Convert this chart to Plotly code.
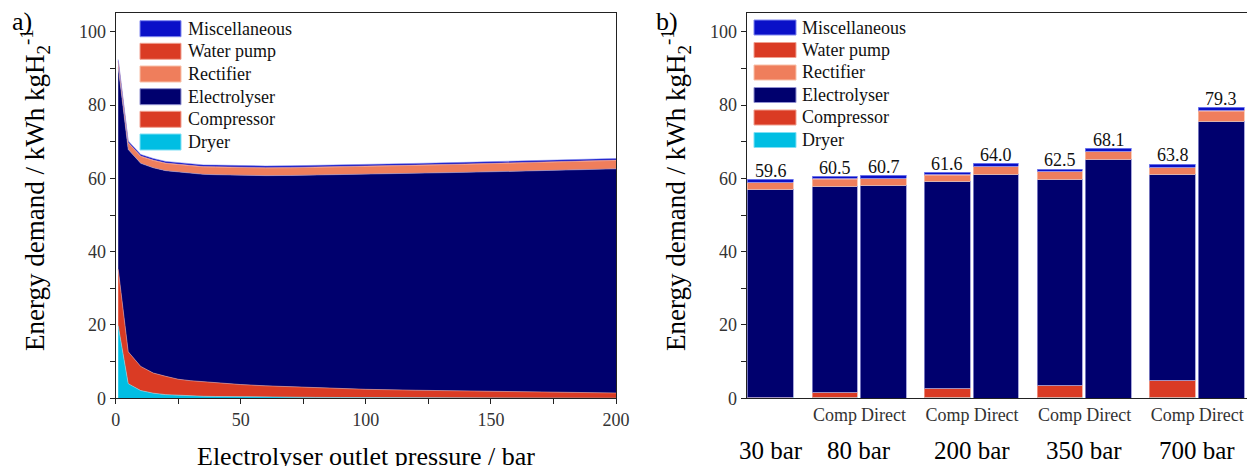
import plotly.graph_objects as go

W, H = 1247, 466
def px(x): return x / W
def py(y): return 1 - y / H

# ---------------- data: panel a) ----------------
pressure = [1, 5, 10, 15, 20, 25, 30, 35, 40, 50, 60, 70, 80, 90, 100, 120, 140, 160, 180, 200]
dryer_a = [19.8, 4.0, 2.1, 1.4, 1.0, 0.8, 0.65, 0.55, 0.5, 0.4, 0.33, 0.28, 0.25, 0.22, 0.2, 0.16, 0.12, 0.09, 0.05, 0.02]
compressor_a = [15.4, 8.7, 6.6, 5.5, 5.0, 4.4, 4.15, 3.95, 3.75, 3.35, 3.07, 2.87, 2.65, 2.43, 2.25, 2.04, 1.88, 1.71, 1.55, 1.43]
electrolyser_a = [55.1, 55.2, 55.4, 56.0, 56.1, 56.5, 56.6, 56.6, 56.75, 57.05, 57.35, 57.65, 58.0, 58.35, 58.65, 59.15, 59.65, 60.15, 60.7, 61.15]
rectifier_a = [1.6, 1.8, 1.9, 2.0, 2.0, 2.05, 2.05, 2.05, 2.1, 2.1, 2.1, 2.1, 2.1, 2.15, 2.15, 2.2, 2.2, 2.25, 2.25, 2.3]
waterpump_a = [0.08] * 20
misc_a = [0.45] * 20

# ---------------- data: panel b) ----------------
groups_b = ["30 bar", "80 bar", "200 bar", "350 bar", "700 bar"]
routes_b = ["", "Comp", "Direct", "Comp", "Direct", "Comp", "Direct", "Comp", "Direct"]
bar_group = [0, 1, 1, 2, 2, 3, 3, 4, 4]
dryer_b = [0.3, 0.3, 0.0, 0.3, 0.0, 0.3, 0.0, 0.3, 0.0]
compressor_b = [0.0, 1.1, 0.0, 2.2, 0.0, 3.1, 0.0, 4.4, 0.0]
electrolyser_b = [56.5, 56.4, 58.0, 56.5, 61.0, 56.3, 65.0, 56.2, 75.6]
rectifier_b = [2.0, 1.9, 1.9, 1.8, 2.2, 2.0, 2.3, 2.0, 2.7]
waterpump_b = [0.1, 0.1, 0.1, 0.1, 0.1, 0.1, 0.1, 0.1, 0.1]
misc_b = [0.7, 0.7, 0.7, 0.7, 0.7, 0.7, 0.7, 0.8, 0.9]
totals_b = [59.6, 60.5, 60.7, 61.6, 64.0, 62.5, 68.1, 63.8, 79.3]

# series styling (bottom -> top)
series = [
    ("Dryer", "#00BEE3", "#7FE0F5"),
    ("Compressor", "#DA3B24", "#F0A090"),
    ("Electrolyser", "#00006E", "#9090D0"),
    ("Rectifier", "#EF7E5C", "#F8C0A8"),
    ("Water pump", "#DA3B24", "#F0A090"),
    ("Miscellaneous", "#0A10C8", "#8088F0"),
]
data_a = [dryer_a, compressor_a, electrolyser_a, rectifier_a, waterpump_a, misc_a]
data_b = [dryer_b, compressor_b, electrolyser_b, rectifier_b, waterpump_b, misc_b]

# bar layout (positions on the numeric category axis)
pair_pitch, group_pitch, first_gap, bar_w = 1.0, 2.315, 1.317, 0.94
slot = []
for i, g in enumerate(bar_group):
    if g == 0:
        slot.append(0.0)
    else:
        within = 0 if routes_b[i] == "Comp" else 1
        slot.append(first_gap + (g - 1) * group_pitch + within * pair_pitch)

FONT = "Liberation Serif"
fig = go.Figure()

for (name, col, lcol), ys in zip(series, data_a):
    fig.add_trace(go.Scatter(
        x=pressure, y=ys, name=name, stackgroup="a", mode="lines",
        line=dict(width=0.6, color=lcol), fillcolor=col, showlegend=False,
        xaxis="x", yaxis="y"))

for (name, col, lcol), ys in zip(series, data_b):
    fig.add_trace(go.Bar(
        x=slot, y=ys, name=name, width=bar_w, showlegend=False,
        marker=dict(color=col, line=dict(color=lcol, width=0.8)),
        xaxis="x2", yaxis="y2"))

ann = []
for x, t in zip(slot, totals_b):
    ann.append(dict(x=x, y=t, xref="x2", yref="y2", text=f"{t:.1f}", showarrow=False,
                    xanchor="center", yanchor="bottom", yshift=-3,
                    font=dict(family=FONT, size=18, color="#111")))

# group labels
grp_x = {}
for i, g in enumerate(bar_group):
    grp_x.setdefault(g, []).append(slot[i])
for g, name in enumerate(groups_b):
    xs = grp_x[g]
    ann.append(dict(x=sum(xs) / len(xs), y=py(450), xref="x2", yref="paper", text=name,
                    showarrow=False, xanchor="center", yanchor="middle",
                    font=dict(family=FONT, size=25, color="#000")))

ytitle = "Energy demand / kWh kgH<sub>2</sub><sup>-1</sup>"
ann += [
    dict(x=px(35), y=py(190), xref="paper", yref="paper", text=ytitle, textangle=-90,
         showarrow=False, xanchor="center", yanchor="middle",
         font=dict(family=FONT, size=27, color="#000")),
    dict(x=px(676), y=py(190), xref="paper", yref="paper", text=ytitle, textangle=-90,
         showarrow=False, xanchor="center", yanchor="middle",
         font=dict(family=FONT, size=27, color="#000")),
    dict(x=px(366), y=py(456), xref="paper", yref="paper", text="Electrolyser outlet pressure / bar",
         showarrow=False, xanchor="center", yanchor="middle",
         font=dict(family=FONT, size=26, color="#000")),
    dict(x=px(22), y=py(22), xref="paper", yref="paper", text="a)", showarrow=False,
         xanchor="center", yanchor="middle", font=dict(family=FONT, size=26, color="#000")),
    dict(x=px(667), y=py(22), xref="paper", yref="paper", text="b)", showarrow=False,
         xanchor="center", yanchor="middle", font=dict(family=FONT, size=26, color="#000")),
]

# manual legends
shapes = []
legend_order = list(reversed(series))
for (sx0, sx1, tx, rows, hh) in [
    (140, 181, 186, [28.7, 51.3, 74.0, 96.7, 119.3, 142.0], 16),
    (754, 796, 800, [27.5, 50.0, 72.5, 95.0, 117.5, 140.0], 15),
]:
    for (name, col, lcol), cy in zip(legend_order, rows):
        shapes.append(dict(type="rect", xref="paper", yref="paper",
                           x0=px(sx0), x1=px(sx1), y0=py(cy + hh / 2), y1=py(cy - hh / 2),
                           fillcolor=col, line=dict(color=lcol, width=1)))
        ann.append(dict(x=px(tx), y=py(cy), xref="paper", yref="paper", text=name,
                        showarrow=False, xanchor="left", yanchor="middle",
                        font=dict(family=FONT, size=18, color="#111")))

axis_common = dict(showline=True, linecolor="#222", linewidth=1, mirror=True,
                   showgrid=False, zeroline=False, automargin=False,
                   tickfont=dict(family=FONT, size=18, color="#333"))

fig.update_layout(
    width=W, height=H, margin=dict(l=0, r=0, t=0, b=0, autoexpand=False),
    paper_bgcolor="white", plot_bgcolor="white",
    barmode="stack", bargap=0,
    showlegend=False,
    font=dict(family=FONT),
    xaxis=dict(domain=[px(115.7), px(616)], range=[0, 200], tickvals=[0, 50, 100, 150, 200],
               ticks="outside", ticklen=5, tickcolor="#222",
               minor=dict(tickvals=[25, 75, 125, 175], ticks="outside", ticklen=5, tickcolor="#222"),
               anchor="y", **axis_common),
    yaxis=dict(domain=[py(398.3), py(12.7)], range=[0, 105.2], tickvals=[0, 20, 40, 60, 80, 100],
               ticks="outside", ticklen=5, tickcolor="#222",
               minor=dict(tickvals=[10, 30, 50, 70, 90], ticks="outside", ticklen=5, tickcolor="#222"),
               anchor="x", **axis_common),
    xaxis2=dict(domain=[px(746.5), 1.0], range=[-0.5, 9.79],
                tickvals=[s for s, r in zip(slot, routes_b) if r],
                ticktext=[r for r in routes_b if r], ticks="",
                anchor="y2", **axis_common),
    yaxis2=dict(domain=[py(398.3), py(12.7)], range=[0, 105.2], tickvals=[0, 20, 40, 60, 80, 100],
                ticks="outside", ticklen=5, tickcolor="#222",
                minor=dict(tickvals=[10, 30, 50, 70, 90], ticks="outside", ticklen=5, tickcolor="#222"),
                anchor="x2", **axis_common),
    annotations=ann,
    shapes=shapes,
)

fig.write_html("out.html")
